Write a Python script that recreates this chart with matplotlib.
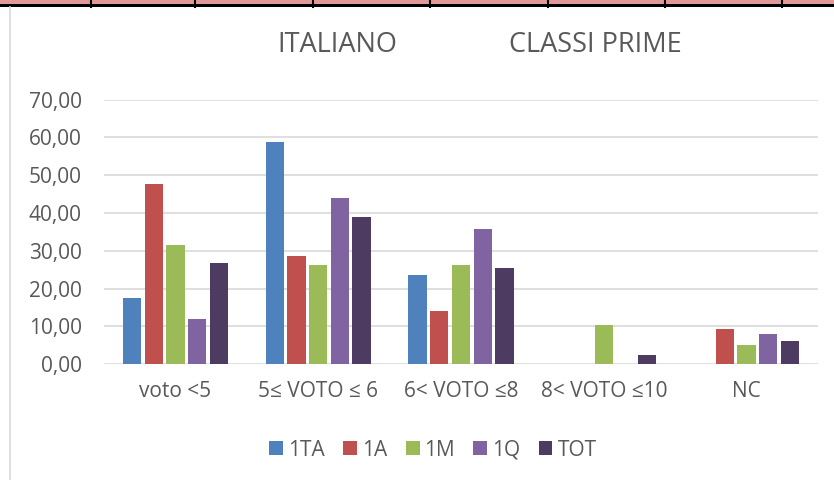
import matplotlib.pyplot as plt
import numpy as np
from matplotlib.patches import Rectangle
from matplotlib.lines import Line2D

categorie = ["voto <5", "5≤ VOTO ≤ 6", "6< VOTO ≤8", "8< VOTO ≤10", "NC"]
classi = ["1TA", "1A", "1M", "1Q", "TOT"]
v_1ta = [17.45, 58.70, 23.55, 0, 0]
v_1a = [47.60, 28.55, 14.20, 0, 9.40]
v_1m = [31.45, 26.20, 26.20, 10.40, 5.20]
v_1q = [11.95, 43.95, 35.85, 0, 7.95]
v_tot = [26.70, 38.85, 25.55, 2.40, 6.10]
colori = ["#4F81BD", "#C0504D", "#9BBB59", "#8064A2", "#4E3B62"]

plt.rcParams['font.family'] = ['Open Sans', 'DejaVu Sans']
testo = "#595959"

fig = plt.figure(figsize=(8.34, 4.8), dpi=100)
ax = fig.add_axes([0.1247, 0.241, 0.8561, 0.5517])

x = np.arange(len(categorie))
passo = 0.152
serie = [v_1ta, v_1a, v_1m, v_1q, v_tot]
for i, (nome, vals) in enumerate(zip(classi, serie)):
    ax.bar(x + (i - 2) * passo, vals, width=0.128, color=colori[i], label=nome, zorder=3)

ax.set_xlim(-0.5, 4.5)
ax.set_ylim(0, 70)
ax.set_yticks(np.arange(0, 71, 10))
ax.set_yticklabels([("%.2f" % v).replace(".", ",") for v in np.arange(0, 71, 10)])
ax.set_xticks(x)
ax.set_xticklabels(categorie)
ax.grid(axis="y", color="#D9D9D9", linewidth=1.2, zorder=0)
for s in ax.spines.values():
    s.set_visible(False)
ax.tick_params(axis="y", length=0, pad=16, labelsize=15, labelcolor=testo)
ax.tick_params(axis="x", length=0, pad=12, labelsize=15, labelcolor=testo)

# titolo in due pezzi
fig.text(337 / 834, 1 - 45 / 480, "ITALIANO", ha="center", va="center",
         fontsize=19.5, color=testo)
fig.text(595.5 / 834, 1 - 45 / 480, "CLASSI PRIME", ha="center", va="center",
         fontsize=19.5, color=testo)

ax.legend(loc="center", bbox_to_anchor=(433 / 834, 1 - 450 / 480),
          bbox_transform=fig.transFigure, ncol=5, frameon=False, fontsize=15,
          handlelength=0.67, handleheight=0.67, handletextpad=0.24,
          columnspacing=0.87, labelcolor=testo)

# bordi della tabella sopra il grafico
fig.patches.append(Rectangle((0, 1 - 4 / 480), 1, 4 / 480, transform=fig.transFigure,
                             facecolor="#E09898", edgecolor="none"))
fig.patches.append(Rectangle((0, 1 - 7 / 480), 1, 3 / 480, transform=fig.transFigure,
                             facecolor="black", edgecolor="none"))
for xv in [91, 195, 313, 430, 548, 665, 782]:
    fig.lines.append(Line2D([xv / 834, xv / 834], [1 - 7 / 480, 1], transform=fig.transFigure,
                            color="black", linewidth=1.5))
fig.lines.append(Line2D([9.5 / 834, 9.5 / 834], [0, 1 - 7 / 480], transform=fig.transFigure,
                        color="#D9D9D9", linewidth=1.2))

fig.savefig("out.png", dpi=100)
